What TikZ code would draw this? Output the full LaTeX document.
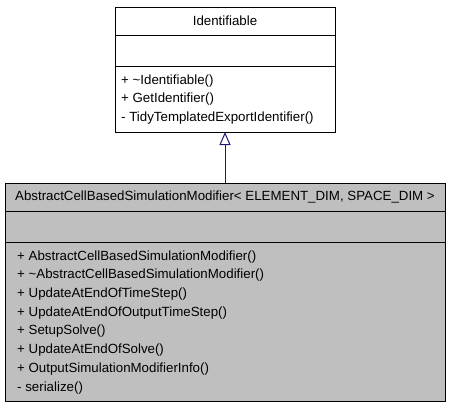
\documentclass[tikz,border=0pt]{standalone}
\usepackage{fontspec}
\setmainfont{Liberation Sans}
\usetikzlibrary{arrows.meta,positioning,calc}
\definecolor{classfill}{RGB}{191,191,191}
\definecolor{edgeblue}{RGB}{25,25,112}
\tikzset{compart/.style={draw,line width=1pt,inner sep=0pt,outer sep=0pt},
 members/.style={align=left,inner sep=0pt,anchor=north west},
 inherit/.style={-{Triangle[open,length=13pt,width=11pt]},edgeblue,line width=1pt},
 every node/.style={font=\fontsize{13.3}{18.7}\selectfont}}

\begin{document}
\begin{tikzpicture}[x=1pt,y=-1pt]
\useasboundingbox (0,0) rectangle (451,408);
% base class
\node[compart,minimum width=220pt,minimum height=28pt,anchor=north west] (idname) at (115,7) {Identifiable};
\node[compart,minimum width=220pt,minimum height=31pt,below=0pt of idname] (idattr) {};
\node[compart,minimum width=220pt,minimum height=66pt,below=0pt of idattr] (idops) {};
\node[members] (idlist) at ($(idops.north west)+(6,8.3)$)
 {+ \textasciitilde Identifiable()\\+ GetIdentifier()\\- TidyTemplatedExportIdentifier()};
% derived class
\node[compart,fill=classfill,minimum width=440pt,minimum height=28pt,anchor=north west] (modname) at (5,183)
 {AbstractCellBasedSimulationModifier< ELEMENT\_DIM, SPACE\_DIM >};
\node[compart,fill=classfill,minimum width=440pt,minimum height=31pt,below=0pt of modname] (modattr) {};
\node[compart,fill=classfill,minimum width=440pt,minimum height=159pt,below=0pt of modattr] (modops) {};
\node[members] (modlist) at ($(modops.north west)+(12,8.3)$)
 {+ AbstractCellBasedSimulationModifier()\\+ \textasciitilde AbstractCellBasedSimulationModifier()\\
  + UpdateAtEndOfTimeStep()\\+ UpdateAtEndOfOutputTimeStep()\\+ SetupSolve()\\
  + UpdateAtEndOfSolve()\\+ OutputSimulationModifierInfo()\\- serialize()};
% inheritance
\draw[inherit] (modname.north) -- (modname.north |- idops.south);
\end{tikzpicture}
\end{document}
